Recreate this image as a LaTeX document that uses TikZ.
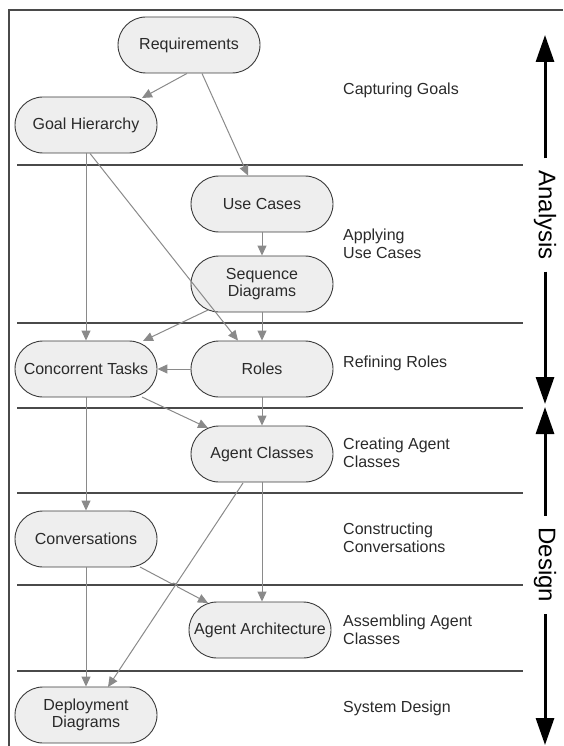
\documentclass[tikz,border=0pt]{standalone}
\usepackage{fontspec}
\setmainfont{Liberation Sans}
\usetikzlibrary{arrows.meta,calc}
\definecolor{boxfill}{HTML}{EEEEEE}
\definecolor{boxline}{HTML}{3A3A3A}
\definecolor{flowline}{HTML}{8A8A8A}
\definecolor{rulecol}{HTML}{4A4A4A}
\definecolor{txt}{HTML}{2A2A2A}
\begin{document}
\begin{tikzpicture}[x=1pt,y=-1pt,
  activity/.style={draw=boxline,line width=0.9pt,fill=boxfill,rounded corners=28pt,
    minimum width=142pt,minimum height=56pt,inner sep=0pt,align=center,text=txt,
    font=\fontsize{16}{16.5}\selectfont},
  phase/.style={anchor=west,align=left,text=txt,inner sep=0pt,
    font=\fontsize{16}{18}\selectfont},
  flow/.style={draw=flowline,line width=1pt,-{Triangle[length=10pt,width=9pt]}},
  lane/.style={draw=rulecol,line width=1.2pt},
  stage/.style={rotate=-90,inner xsep=12pt,inner ysep=0pt,outer sep=0pt,text=black,
    font=\fontsize{24}{24}\selectfont},
  span/.style={draw=black,line width=3pt,-{Triangle[length=27pt,width=18pt]}}]
\useasboundingbox (0,0) rectangle (563,746);

% outer frame (open at right and bottom)
\draw[lane] (9,746) -- (9,10) -- (563,10);

% lane separators
\foreach \yy in {165,323,408,493,585,671}
  \draw[lane] (17,\yy) -- (523,\yy);

% activities
\node[activity] (req)   at (189,45)  {Requirements};
\node[activity] (goal)  at (86,125)  {Goal Hierarchy};
\node[activity] (use)   at (262,204) {Use Cases};
\node[activity] (seq)   at (262,284) {Sequence\\Diagrams};
\node[activity] (conc)  at (86,369)  {Concorrent Tasks};
\node[activity] (roles) at (262,369) {Roles};
\node[activity] (agc)   at (262,454) {Agent Classes};
\node[activity] (conv)  at (86,539)  {Conversations};
\node[activity] (arch)  at (260,630) {Agent Architecture};
\node[activity] (dep)   at (86,715)  {Deployment\\Diagrams};

% phase names
\node[phase] (p1) at (343,90)  {Capturing Goals};
\node[phase] (p2) at (343,244) {Applying\\Use Cases};
\node[phase] (p3) at (343,363) {Refining Roles};
\node[phase] (p4) at (343,453) {Creating Agent\\Classes};
\node[phase] (p5) at (343,538) {Constructing\\Conversations};
\node[phase] (p6) at (343,630) {Assembling Agent\\Classes};
\node[phase] (p7) at (343,708) {System Design};

% flows between activities
\draw[flow] ([xshift=-2pt]req.south) -- ([shift={(56,-27)}]goal.center);
\draw[flow] ([xshift=13pt]req.south) -- ([xshift=-14pt]use.north);
\draw[flow] (goal.south) -- (conc.north);
\draw[flow] ([xshift=4pt]goal.south) -- ([xshift=-24pt]roles.north);
\draw[flow] (use.south) -- (seq.north);
\draw[flow] ([shift={(-54,26)}]seq.center) -- ([shift={(57,-28)}]conc.center);
\draw[flow] (seq.south) -- (roles.north);
\draw[flow] (roles.west) -- (conc.east);
\draw[flow] ([shift={(56,28)}]conc.center) -- ([shift={(-54,-26)}]agc.center);
\draw[flow] (roles.south) -- (agc.north);
\draw[flow] (conc.south) -- (conv.north);
\draw[flow] (agc.south) -- ([xshift=2pt]arch.north);
\draw[flow] ([shift={(-19,29)}]agc.center) -- ([shift={(22,-28)}]dep.center);
\coordinate (cvA) at ([shift={(54,28)}]conv.center);
\coordinate (cvB) at ([shift={(-52,-27)}]arch.center);
\draw[flow] (cvA) -- ($(cvA)!0.47!(cvB)$) to[bend left=90] ($(cvA)!0.55!(cvB)$) -- (cvB);
\draw[flow] (conv.south) -- (dep.north);

% analysis / design spans
\coordinate (aTop) at (545,35);
\coordinate (aEnd) at (545,404);
\coordinate (dTop) at (545,407);
\coordinate (dEnd) at (545,745);
\node[stage] (analysis) at (545,215) {Analysis};
\node[stage] (design)   at (545,565) {Design};
\draw[span] (analysis.west) -- (aTop);
\draw[span] (analysis.east) -- (aEnd);
\draw[span] (design.west) -- (dTop);
\draw[span] (design.east) -- (dEnd);
\end{tikzpicture}
\end{document}
